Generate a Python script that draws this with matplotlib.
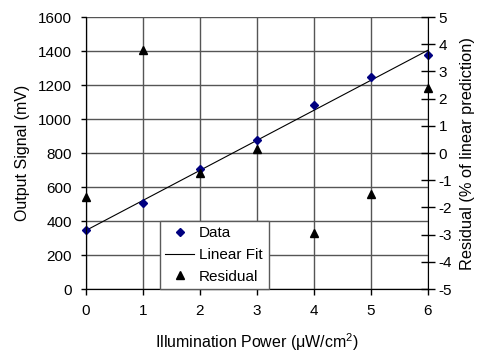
import numpy as np
import matplotlib
matplotlib.use("Agg")
import matplotlib.pyplot as plt
from matplotlib.lines import Line2D

plt.rcParams['font.family'] = ['Liberation Sans', 'DejaVu Sans']
plt.rcParams['mathtext.fontset'] = 'custom'
plt.rcParams['mathtext.rm'] = 'Liberation Sans'
plt.rcParams['mathtext.it'] = 'Liberation Sans:italic'
plt.rcParams['axes.unicode_minus'] = False

# measured values
power = [0, 1, 2, 3, 4, 5, 6]
signal = [350, 505, 705, 875, 1085, 1250, 1375]
residual = [-1.6, 3.8, -0.75, 0.15, -2.95, -1.5, 2.4]

# linear fit end points
fit_x = [0, 6]
fit_y = [345, 1405]

fig = plt.figure(figsize=(4.83, 3.56), dpi=100)
ax = fig.add_axes([0.178, 0.188, 0.708, 0.764])
ax2 = ax.twinx()

grid_col = '#555555'
ax.set_xlim(0, 6)
ax.set_ylim(0, 1600)
ax.set_xticks(power)
ax.set_yticks(np.arange(0, 1601, 200))
ax.grid(True, color=grid_col, lw=1.0, zorder=0)
ax.set_axisbelow(True)

ax.plot(power, signal, ls='none', marker='D', ms=4.5, color='#000080', zorder=5, clip_on=False)
ax.plot(fit_x, fit_y, color='black', lw=0.8, zorder=4, clip_on=False)

ax2.set_ylim(-5, 5)
ax2.set_yticks(range(-5, 6))
ax2.plot(power, residual, ls='none', marker='^', ms=6, color='black', zorder=5, clip_on=False)

for a in (ax, ax2):
    a.spines['top'].set_visible(False)
    a.spines['left'].set_color('black')
    a.spines['bottom'].set_color('black')
    a.spines['right'].set_color('black')
ax.spines['right'].set_visible(False)

ax.tick_params(axis='y', direction='out', length=3.6, width=1, labelsize=11, pad=6.5)
ax.tick_params(axis='x', direction='out', length=4, width=1, labelsize=11, pad=7)
ax2.tick_params(axis='y', direction='inout', length=9.4, width=1, labelsize=11, pad=3)

ax.set_xlabel('Illumination Power (μW/cm$^2$)', fontsize=11.5, labelpad=9)
ax.set_ylabel('Output Signal (mV)', fontsize=11.5, labelpad=6)
ax2.set_ylabel('Residual (% of linear prediction)', fontsize=11.8, labelpad=6)

handles = [
    Line2D([], [], ls='none', marker='D', ms=4.5, color='#000080'),
    Line2D([], [], color='black', lw=0.8),
    Line2D([], [], ls='none', marker='^', ms=6, color='black'),
]
leg = ax2.legend(handles, ['Data', 'Linear Fit', 'Residual'],
                 loc='lower left', bbox_to_anchor=(0.331, 0.188, 0.226, 0.197),
                 bbox_transform=fig.transFigure, mode='expand',
                 fancybox=False, framealpha=1, edgecolor='#5a5a5a',
                 fontsize=11, borderaxespad=0, handlelength=1.9,
                 labelspacing=0.5, borderpad=0.35, handletextpad=0.3)
leg.get_frame().set_linewidth(1.0)
leg.set_zorder(10)

fig.savefig('out.png', dpi=100)
